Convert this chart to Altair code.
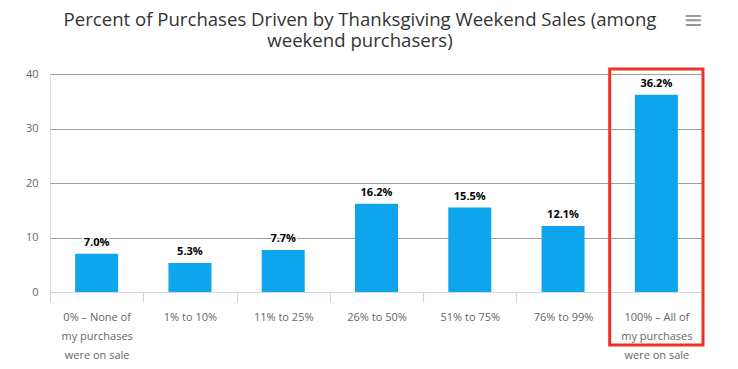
import altair as alt
import pandas as pd

categories = [
    "0% – None of\nmy purchases\nwere on sale",
    "1% to 10%",
    "11% to 25%",
    "26% to 50%",
    "51% to 75%",
    "76% to 99%",
    "100% – All of\nmy purchases\nwere on sale",
]
values = [7.0, 5.3, 7.7, 16.2, 15.5, 12.1, 36.2]
labels = [f"{v:.1f}%" for v in values]
highlight = [categories[-1]]
title_lines = ["Percent of Purchases Driven by Thanksgiving Weekend Sales (among", "weekend purchasers)"]

df = pd.DataFrame({"cat": categories, "val": values, "lab": labels})
hl = pd.DataFrame({"cat": highlight})

FONT = "Open Sans"
W, H = 653, 218

xenc = alt.X(
    "cat:N",
    sort=categories,
    title=None,
    scale=alt.Scale(paddingInner=0, paddingOuter=0),
    axis=alt.Axis(
        labelExpr="split(datum.label, '\\n')",
        labelAngle=0,
        labelColor="#666666",
        labelFont=FONT,
        labelFontSize=11,
        labelLineHeight=19,
        labelPadding=9,
        labelBaseline="top",
        domainColor="#ccd6eb",
        tickColor="#ccd6eb",
        tickSize=10,
        tickBand="extent",
        grid=False,
    ),
)

bars = alt.Chart(df).mark_bar(color="#0ea5ec", size=43).encode(
    x=xenc,
    y=alt.Y(
        "val:Q",
        title=None,
        scale=alt.Scale(domain=[0, 40]),
        axis=alt.Axis(
            values=[0, 10, 20, 30, 40],
            labelColor="#666666",
            labelFont=FONT,
            labelFontSize=11,
            labelPadding=12,
            domain=False,
            ticks=False,
            grid=True,
            gridColor="#a0a0a0",
            gridWidth=1,
        ),
    ),
)

halo = alt.Chart(df).mark_text(
    baseline="bottom", dy=-6, font=FONT, fontSize=11, fontWeight="bold",
    stroke="white", strokeWidth=3, color="white",
).encode(x=alt.X("cat:N", sort=categories), y="val:Q", text="lab:N")

txt = alt.Chart(df).mark_text(
    baseline="bottom", dy=-6, font=FONT, fontSize=11, fontWeight="bold", color="#000000",
).encode(x=alt.X("cat:N", sort=categories), y="val:Q", text="lab:N")

box = alt.Chart(hl).mark_rect(
    fill=None, fillOpacity=0, stroke="#ee3124", strokeWidth=3,
).encode(x=alt.X("cat:N", sort=categories), y=alt.value(-5), y2=alt.value(271))

title = alt.Chart(hl).mark_text(
    text=title_lines, font=FONT, fontSize=18.6, color="#333333",
    align="center", baseline="alphabetic", lineHeight=21,
).encode(x=alt.value(310), y=alt.value(-48))

menu = alt.Chart(hl).mark_text(
    text="≡", fontSize=24, color="#999999", font="DejaVu Sans",
).encode(x=alt.value(643), y=alt.value(-53))

chart = alt.layer(bars, halo, txt, box, title, menu).properties(
    width=W,
    height=H,
    autosize=alt.AutoSizeParams(type="none"),
    padding={"left": 42, "top": 66, "right": 20, "bottom": 69},
).configure_view(stroke=None).configure(background="white")

chart.save("out.html", embed_options={"renderer": "svg", "actions": False})
